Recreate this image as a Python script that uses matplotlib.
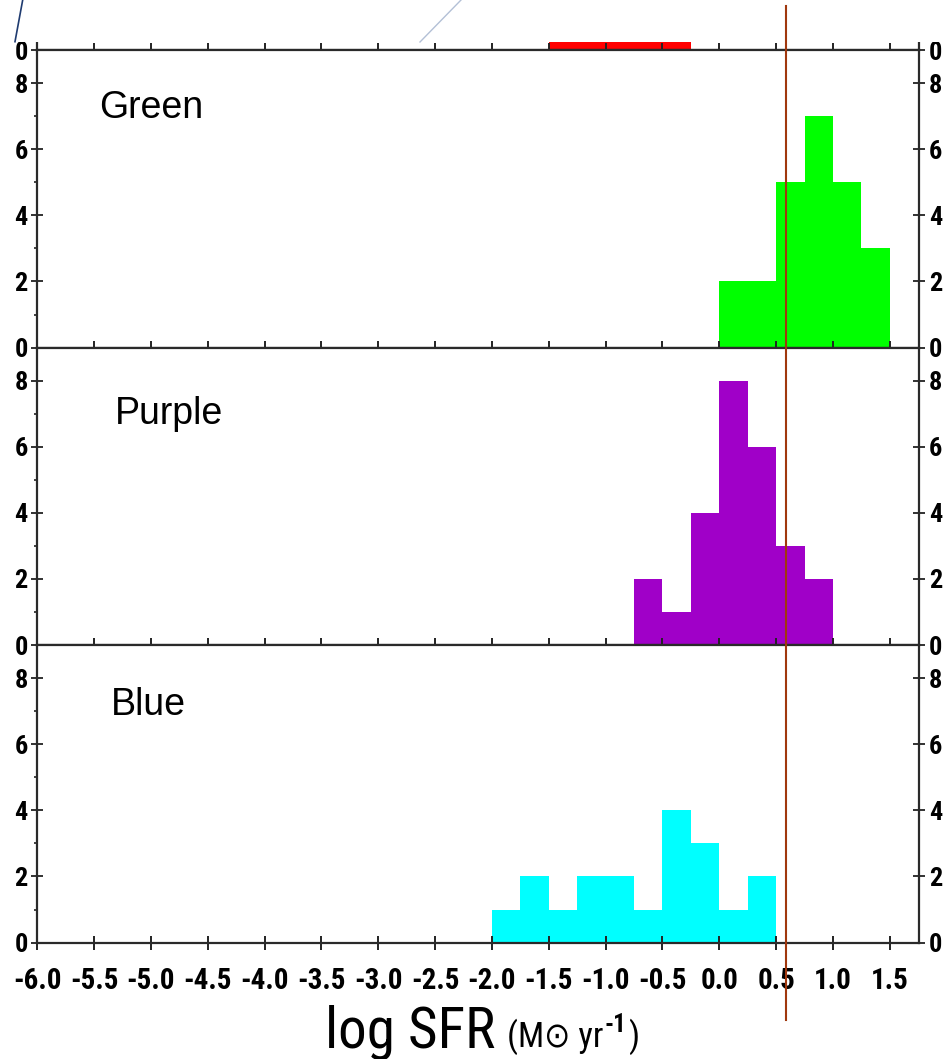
import matplotlib
matplotlib.use('Agg')
import matplotlib.pyplot as plt
from matplotlib import font_manager
from matplotlib.lines import Line2D
from matplotlib.patches import Rectangle
from matplotlib.transforms import blended_transform_factory

# ---------------- data ----------------
bin_width = 0.25
red_left = [-1.5, -1.25, -1.0, -0.75, -0.5]
red_counts = [3, 4, 5, 3, 2]
green_left = [0.0, 0.25, 0.5, 0.75, 1.0, 1.25]
green_counts = [2, 2, 5, 7, 5, 3]
purple_left = [-0.75, -0.5, -0.25, 0.0, 0.25, 0.5, 0.75]
purple_counts = [2, 1, 4, 8, 6, 3, 2]
blue_left = [-2.0, -1.75, -1.5, -1.25, -1.0, -0.75, -0.5, -0.25, 0.0, 0.25]
blue_counts = [1, 2, 1, 2, 2, 1, 4, 3, 1, 2]
panel_names = ["Green", "Purple", "Blue"]
x_ticks = [-6.0, -5.5, -5.0, -4.5, -4.0, -3.5, -3.0, -2.5, -2.0,
           -1.5, -1.0, -0.5, 0.0, 0.5, 1.0, 1.5]
x_tick_labels = ["-6.0", "-5.5", "-5.0", "-4.5", "-4.0", "-3.5", "-3.0", "-2.5",
                 "-2.0", "-1.5", "-1.0", "-0.5", "0.0", "0.5", "1.0", "1.5"]
y_ticks = [0, 2, 4, 6, 8]
y_minor = [1, 3, 5, 7]
cut_value = 0.59

# ---------------- fonts ----------------
cond_words = ('narrow', 'condensed')
cond_stretch = ('condensed', 'semi-condensed', 'extra-condensed', 'ultra-condensed')
cands = []
for f in font_manager.fontManager.ttflist:
    st = f.stretch
    is_cond = any(w in f.name.lower() for w in cond_words) or \
        (isinstance(st, str) and st in cond_stretch) or \
        (isinstance(st, int) and st < 500)
    if is_cond:
        cands.append(f)
pref = ['Liberation', 'Arial', 'Noto Sans', 'Roboto', 'Open Sans', 'DejaVu Sans']
narrow = None
narrow_stretch = 'normal'
for p in pref:
    for f in cands:
        if f.name.startswith(p) and 'mono' not in f.name.lower() and 'serif' not in f.name.lower():
            narrow = f.name
            narrow_stretch = f.stretch
            break
    if narrow:
        break
if narrow is None:
    narrow = 'Liberation Sans'
    scale = 0.85
else:
    scale = 1.0

plt.rcParams['font.family'] = [narrow, 'DejaVu Sans']
plt.rcParams['font.stretch'] = narrow_stretch
plt.rcParams['font.weight'] = 'bold'

W, H, DPI = 945, 1059, 100
fig = plt.figure(figsize=(W / DPI, H / DPI), dpi=DPI)
fig.patch.set_facecolor('white')

L, R = 37.3, 919.4
ph = 297.5
bottoms = [50.1, 347.6, 645.1, 942.6]


def px_rect(left, top, right, bottom):
    return [left / W, 1 - bottom / H, (right - left) / W, (bottom - top) / H]


series = [
    (red_left, red_counts, '#FF0000'),
    (green_left, green_counts, '#00FF00'),
    (purple_left, purple_counts, '#A000C8'),
    (blue_left, blue_counts, '#00FFFF'),
]
label_pos = [None, (-5.46, 6.95), (-5.32, 6.69), (-5.35, 6.88)]

axes = []
for i, (b, (lefts, counts, col)) in enumerate(zip(bottoms, series)):
    ax = fig.add_axes(px_rect(L, b - ph, R, b))
    axes.append(ax)
    ax.bar(lefts, counts, width=bin_width, align='edge', color=col,
           edgecolor='none', linewidth=0)
    ax.set_xlim(-6.0, 1.76)
    ax.set_ylim(0, 9)
    ax.set_xticks(x_ticks)
    if i == 0:
        ax.set_yticks([0])
    else:
        ax.set_yticks(y_ticks)
        ax.set_yticks(y_minor, minor=True)
    is_bottom = (i == len(bottoms) - 1)
    ax.set_xticklabels(x_tick_labels if is_bottom else [])
    for sp in ax.spines.values():
        sp.set_color('#2a2a2a')
        sp.set_linewidth(1.6)
    ax.tick_params(axis='x', which='major', direction='inout', length=10.5,
                   width=1.4, color='#222222', bottom=True, top=False,
                   labelbottom=is_bottom, labelsize=21 * scale, pad=12)
    ax.tick_params(axis='y', which='major', direction='inout', length=8.6,
                   width=1.3, color='#222222', left=True, right=True,
                   labelleft=True, labelright=True, labelsize=19 * scale, pad=2.5)
    ax.tick_params(axis='y', which='minor', direction='out', length=2.5,
                   width=1.2, color='#222222', left=True, right=False)
    if label_pos[i] is not None:
        ax.text(label_pos[i][0], label_pos[i][1], panel_names[i - 1],
                fontsize=27, family=['Liberation Sans', 'DejaVu Sans'],
                weight='normal', stretch='normal', va='baseline', ha='left')

# white cover over the top panel
fig.add_artist(Rectangle((0, 1 - 41.7 / H), 1, 41.7 / H, transform=fig.transFigure,
                         facecolor='white', edgecolor='none', zorder=8))

# decorative thin lines at the top
fig.add_artist(Line2D([22.7 / W, 15.0 / W], [1.0, 1 - 41.7 / H],
                      transform=fig.transFigure, color='#1F3B70', lw=1.2, zorder=10))
fig.add_artist(Line2D([461 / W, 420 / W], [1.0, 1 - 42 / H],
                      transform=fig.transFigure, color='#B3C0D6', lw=1.0, zorder=10))

# vertical cut line
trans = blended_transform_factory(axes[-1].transData, fig.transFigure)
fig.add_artist(Line2D([cut_value, cut_value], [1 - 6 / H, 1 - 1020 / H],
                      transform=trans, color='#A0380E', lw=1.5, zorder=10))

# x axis label built from pieces
renderer = fig.canvas.get_renderer()
base_y = 1 - 1047 / H
t1 = fig.text(325 / W, base_y, "log SFR", fontsize=38 * (0.95 if scale < 1 else 1.08),
              weight='normal', va='baseline', ha='left')
bb = t1.get_window_extent(renderer)
t2 = fig.text((bb.x1 + 12) / W, base_y, "(M\u2299 yr", fontsize=25, weight='normal',
              va='baseline', ha='left', family=[narrow, 'DejaVu Sans'])
bb2 = t2.get_window_extent(renderer)
t3 = fig.text((bb2.x1 + 1) / W, base_y + 15 / H, "-1", fontsize=18, weight='bold',
              va='baseline', ha='left')
bb3 = t3.get_window_extent(renderer)
fig.text((bb3.x1 + 1) / W, base_y, ")", fontsize=25, weight='normal',
         va='baseline', ha='left')

fig.savefig('out.png', dpi=DPI, facecolor='white')
